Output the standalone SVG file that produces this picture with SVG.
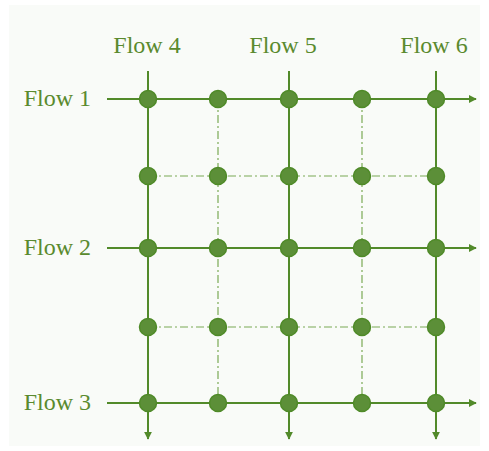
<svg xmlns="http://www.w3.org/2000/svg" width="489" height="451" viewBox="0 0 489 451">
<style>
.lbl{font-family:"Liberation Serif","Times New Roman",serif;font-size:24px;fill:#5a8a2e}
.solid{stroke:#528a2a;stroke-width:2;fill:none}
.dash{stroke:#7aaa55;stroke-width:1.2;fill:none;stroke-dasharray:8 3 2 3}
.node{fill:#5c8f38;stroke:#4f8a28;stroke-width:1.5}
</style>
<defs>
<marker id="ah" viewBox="0 0 10 10" refX="9" refY="5" markerWidth="4" markerHeight="4" orient="auto" markerUnits="strokeWidth">
<path d="M0,0 L10,5 L0,10 z" fill="#528a2a"/>
</marker>
</defs>
<rect x="9" y="5" width="471" height="441" fill="#f9fbf8"/>
<g id="connectors">
<path class="dash" d="M148,176 H436 M148,327 H436 M218,99 V403 M362,99 V403"/>
<path class="solid" d="M107,99 H476" marker-end="url(#ah)"/>
<path class="solid" d="M107,248 H476" marker-end="url(#ah)"/>
<path class="solid" d="M107,403 H476" marker-end="url(#ah)"/>
<path class="solid" d="M148,71 V439" marker-end="url(#ah)"/>
<path class="solid" d="M289,71 V439" marker-end="url(#ah)"/>
<path class="solid" d="M436,71 V439" marker-end="url(#ah)"/>
</g>
<g id="labels">
<text class="lbl" x="147" y="53" text-anchor="middle">Flow 4</text>
<text class="lbl" x="283" y="53" text-anchor="middle">Flow 5</text>
<text class="lbl" x="434" y="53" text-anchor="middle">Flow 6</text>
<text class="lbl" x="91" y="106" text-anchor="end">Flow 1</text>
<text class="lbl" x="91" y="255" text-anchor="end">Flow 2</text>
<text class="lbl" x="91" y="410" text-anchor="end">Flow 3</text>
</g>
<g id="nodes">
<g id="r1"><circle class="node" cx="148" cy="99" r="8.5"/><circle class="node" cx="218" cy="99" r="8.5"/><circle class="node" cx="289" cy="99" r="8.5"/><circle class="node" cx="362" cy="99" r="8.5"/><circle class="node" cx="436" cy="99" r="8.5"/></g>
<g id="r2"><circle class="node" cx="148" cy="176" r="8.5"/><circle class="node" cx="218" cy="176" r="8.5"/><circle class="node" cx="289" cy="176" r="8.5"/><circle class="node" cx="362" cy="176" r="8.5"/><circle class="node" cx="436" cy="176" r="8.5"/></g>
<g id="r3"><circle class="node" cx="148" cy="248" r="8.5"/><circle class="node" cx="218" cy="248" r="8.5"/><circle class="node" cx="289" cy="248" r="8.5"/><circle class="node" cx="362" cy="248" r="8.5"/><circle class="node" cx="436" cy="248" r="8.5"/></g>
<g id="r4"><circle class="node" cx="148" cy="327" r="8.5"/><circle class="node" cx="218" cy="327" r="8.5"/><circle class="node" cx="289" cy="327" r="8.5"/><circle class="node" cx="362" cy="327" r="8.5"/><circle class="node" cx="436" cy="327" r="8.5"/></g>
<g id="r5"><circle class="node" cx="148" cy="403" r="8.5"/><circle class="node" cx="218" cy="403" r="8.5"/><circle class="node" cx="289" cy="403" r="8.5"/><circle class="node" cx="362" cy="403" r="8.5"/><circle class="node" cx="436" cy="403" r="8.5"/></g>
</g>
</svg>
